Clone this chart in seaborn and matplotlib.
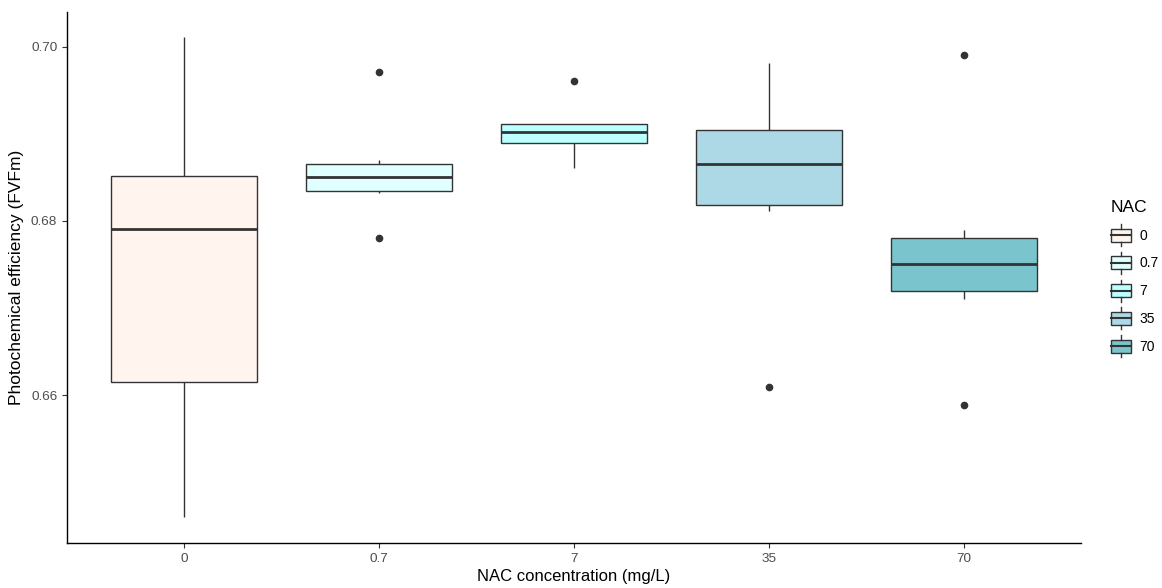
import numpy as np
import pandas as pd
import matplotlib
matplotlib.use('Agg')
import matplotlib.pyplot as plt
import seaborn as sns
from matplotlib.legend_handler import HandlerBase
from matplotlib.patches import Rectangle, Patch
from matplotlib.lines import Line2D

# Fv/Fm readings per NAC concentration
nac_levels = ['0', '0.7', '7', '35', '70']
fvfm_0 = [0.6460, 0.6600, 0.6630, 0.6791, 0.6840, 0.6864, 0.7012]
fvfm_07 = [0.6780, 0.6832, 0.6836, 0.6851, 0.6862, 0.6870, 0.6971]
fvfm_7 = [0.6861, 0.6888, 0.6892, 0.6902, 0.6911, 0.6911, 0.6961]
fvfm_35 = [0.6609, 0.6811, 0.6825, 0.6866, 0.6900, 0.6910, 0.6982]
fvfm_70 = [0.6589, 0.6710, 0.6728, 0.6751, 0.6770, 0.6790, 0.6991]
box_colours = ['#FFF5EE', '#E0FFFF', '#BBFFFF', '#ADD8E6', '#7AC5CD']

groups = [fvfm_0, fvfm_07, fvfm_7, fvfm_35, fvfm_70]
df = pd.concat([pd.DataFrame({'NAC': lvl, 'FvFm': vals})
                for lvl, vals in zip(nac_levels, groups)]).reset_index(drop=True)

plt.rcParams['font.family'] = ['Liberation Sans', 'DejaVu Sans']
edge = '#333333'

fig = plt.figure(figsize=(11.62, 5.88), dpi=100)
ax = fig.add_axes([67 / 1162, 1 - 543 / 588, (1081 - 67) / 1162, (543 - 12) / 588])

sns.boxplot(data=df, x='NAC', y='FvFm', hue='NAC', order=nac_levels,
            hue_order=nac_levels, palette=box_colours, saturation=1, width=0.75,
            linewidth=1, linecolor=edge, showcaps=False, legend=False,
            medianprops=dict(linewidth=2, color=edge),
            flierprops=dict(marker='o', markersize=4.5, markerfacecolor=edge,
                            markeredgecolor=edge),
            ax=ax)

ax.set_xlim(-0.6, 4.6)
ax.set_ylim(0.64299, 0.70402)
ax.set_yticks([0.66, 0.68, 0.70])
ax.set_yticklabels(['0.66', '0.68', '0.70'])
ax.set_xlabel('NAC concentration (mg/L)', fontsize=12, labelpad=3)
ax.set_ylabel('Photochemical efficiency (FVFm)', fontsize=12.5, labelpad=5)
ax.tick_params(axis='both', labelsize=9.7, labelcolor='#4D4D4D', color='#333333',
               length=3.5, width=0.8)
for side in ['top', 'right']:
    ax.spines[side].set_visible(False)
for side in ['left', 'bottom']:
    ax.spines[side].set_linewidth(1)
    ax.spines[side].set_color('black')


class BoxKey(HandlerBase):
    # mini boxplot glyph like ggplot's legend keys
    def create_artists(self, legend, orig_handle, xdescent, ydescent,
                       width, height, fontsize, trans):
        x0 = -xdescent
        y0 = -ydescent
        w = width
        h = height
        cx = x0 + w / 2
        rect = Rectangle((x0, y0 + h * 0.12), w, h * 0.76,
                         facecolor=orig_handle.get_facecolor(), edgecolor=edge,
                         linewidth=1, transform=trans)
        med = Line2D([x0, x0 + w], [y0 + h / 2] * 2, color=edge, lw=1.5, transform=trans)
        top = Line2D([cx, cx], [y0 + h * 0.88, y0 + h * 1.15], color=edge, lw=1, transform=trans)
        bot = Line2D([cx, cx], [y0 - h * 0.15, y0 + h * 0.12], color=edge, lw=1, transform=trans)
        return [rect, med, top, bot]


handles = [Patch(facecolor=c, label=l) for c, l in zip(box_colours, nac_levels)]
leg = fig.legend(handles=handles, title='NAC', loc='upper left',
                 bbox_to_anchor=(1098 / 1162, 1 - 188 / 588), frameon=False,
                 handler_map={Patch: BoxKey()}, fontsize=10, title_fontsize=12.5,
                 handlelength=1.5, handleheight=1.5, labelspacing=0.78,
                 handletextpad=0.6, alignment='left')
leg._legend_handle_box.sep = 0  # keep title spacing compact
leg._legend_title_box._text.set_y(0)
for t in leg.get_texts():
    t.set_color('black')
# small extra gap between title and keys
leg.get_children()[0].sep = 8

plt.savefig('out.png', dpi=100)
